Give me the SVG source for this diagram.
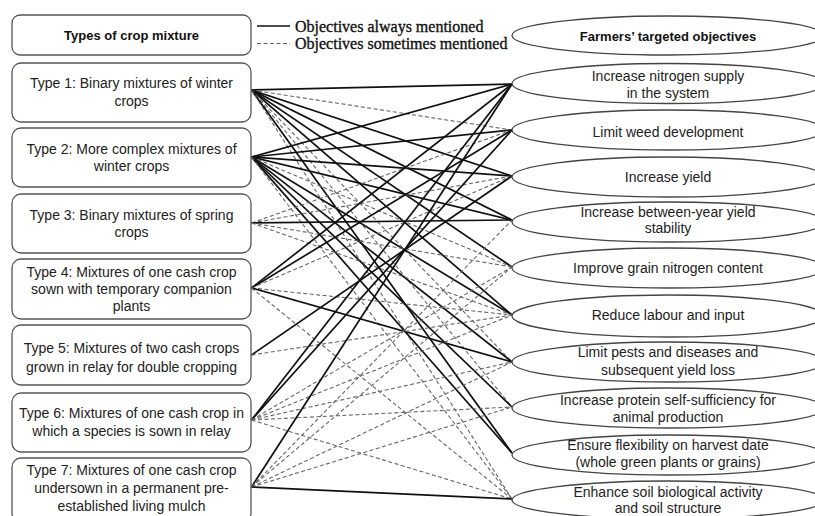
<svg xmlns="http://www.w3.org/2000/svg" width="815" height="516" viewBox="0 0 815 516">
<style>
.box{fill:#fff;stroke:#555;stroke-width:1.3}
.ell{fill:#fff;stroke:#444;stroke-width:1.3}
.t{font-family:"Liberation Sans",Arial,sans-serif;font-size:14px;fill:#222;text-anchor:middle}
.h{font-family:"Liberation Sans",Arial,sans-serif;font-size:13px;font-weight:bold;fill:#111;text-anchor:middle}
.lg{font-family:"Liberation Serif","Times New Roman",serif;font-size:16px;fill:#111;stroke:#111;stroke-width:0.35}
.s{stroke:#111;stroke-width:1.7;fill:none}
.d{stroke:#666;stroke-width:1.1;stroke-dasharray:4 2.5;fill:none}
</style>
<rect width="815" height="516" fill="#fff"/>
<g id="connectors">
<!-- T1 -->
<line class="s" x1="251.5" y1="90" x2="512" y2="84"/>
<line class="d" x1="251.5" y1="90" x2="512" y2="130"/>
<line class="s" x1="251.5" y1="90" x2="512" y2="176"/>
<line class="s" x1="251.5" y1="90" x2="512" y2="220"/>
<line class="s" x1="251.5" y1="90" x2="512" y2="267"/>
<line class="s" x1="251.5" y1="90" x2="512" y2="315"/>
<line class="d" x1="251.5" y1="90" x2="512" y2="362"/>
<line class="d" x1="251.5" y1="90" x2="512" y2="407"/>
<line class="s" x1="251.5" y1="90" x2="512" y2="453"/>
<line class="d" x1="251.5" y1="90" x2="512" y2="499"/>
<!-- T2 -->
<line class="s" x1="251.5" y1="157" x2="512" y2="84"/>
<line class="s" x1="251.5" y1="157" x2="512" y2="130"/>
<line class="s" x1="251.5" y1="157" x2="512" y2="176"/>
<line class="s" x1="251.5" y1="157" x2="512" y2="220"/>
<line class="d" x1="251.5" y1="157" x2="512" y2="267"/>
<line class="s" x1="251.5" y1="157" x2="512" y2="315"/>
<line class="s" x1="251.5" y1="157" x2="512" y2="362"/>
<line class="s" x1="251.5" y1="157" x2="512" y2="407"/>
<line class="s" x1="251.5" y1="157" x2="512" y2="453"/>
<line class="d" x1="251.5" y1="157" x2="512" y2="499"/>
<!-- T3 -->
<line class="d" x1="251.5" y1="223" x2="512" y2="130"/>
<line class="d" x1="251.5" y1="223" x2="512" y2="176"/>
<line class="s" x1="251.5" y1="223" x2="512" y2="220"/>
<line class="d" x1="251.5" y1="223" x2="512" y2="267"/>
<line class="d" x1="251.5" y1="223" x2="512" y2="315"/>
<!-- T4 -->
<line class="s" x1="251.5" y1="288" x2="512" y2="84"/>
<line class="s" x1="251.5" y1="288" x2="512" y2="130"/>
<line class="d" x1="251.5" y1="288" x2="512" y2="176"/>
<line class="d" x1="251.5" y1="288" x2="512" y2="315"/>
<line class="s" x1="251.5" y1="288" x2="512" y2="362"/>
<line class="d" x1="251.5" y1="288" x2="512" y2="499"/>
<!-- T5 -->
<line class="s" x1="251.5" y1="355" x2="512" y2="176"/>
<line class="d" x1="251.5" y1="355" x2="512" y2="315"/>
<!-- T6 -->
<line class="s" x1="251.5" y1="420" x2="512" y2="84"/>
<line class="s" x1="251.5" y1="420" x2="512" y2="130"/>
<line class="d" x1="251.5" y1="420" x2="512" y2="267"/>
<line class="d" x1="251.5" y1="420" x2="512" y2="315"/>
<line class="d" x1="251.5" y1="420" x2="512" y2="362"/>
<line class="d" x1="251.5" y1="420" x2="512" y2="407"/>
<line class="d" x1="251.5" y1="420" x2="512" y2="499"/>
<!-- T7 -->
<line class="s" x1="251.5" y1="487" x2="512" y2="84"/>
<line class="d" x1="251.5" y1="487" x2="512" y2="220"/>
<line class="d" x1="251.5" y1="487" x2="512" y2="267"/>
<line class="d" x1="251.5" y1="487" x2="512" y2="362"/>
<line class="d" x1="251.5" y1="487" x2="512" y2="407"/>
<line class="s" x1="251.5" y1="487" x2="512" y2="499"/>
</g>
<g id="legend">
<line class="s" x1="257" y1="26" x2="290" y2="26"/>
<text class="lg" x="295" y="31.5">Objectives always mentioned</text>
<line class="d" x1="257" y1="43.5" x2="290" y2="43.5"/>
<text class="lg" x="295" y="49">Objectives sometimes mentioned</text>
</g>
<g id="types-header"><rect class="box" x="12" y="15" width="239" height="40" rx="8"/><text class="h" x="131.5" y="40">Types of crop mixture</text></g>
<g id="type1"><rect class="box" x="12" y="63" width="239" height="59" rx="9"/><text class="t" x="131.5" y="87.5">Type 1: Binary mixtures of winter</text><text class="t" x="131.5" y="105.5">crops</text></g>
<g id="type2"><rect class="box" x="12" y="128" width="239" height="59" rx="9"/><text class="t" x="131.5" y="153.5">Type 2: More complex mixtures of</text><text class="t" x="131.5" y="171">winter crops</text></g>
<g id="type3"><rect class="box" x="12" y="194" width="239" height="59" rx="9"/><text class="t" x="131.5" y="220">Type 3: Binary mixtures of spring</text><text class="t" x="131.5" y="237">crops</text></g>
<g id="type4"><rect class="box" x="12" y="259" width="239" height="60" rx="9"/><text class="t" x="131.5" y="277">Type 4: Mixtures of one cash crop</text><text class="t" x="131.5" y="294">sown with temporary companion</text><text class="t" x="131.5" y="311">plants</text></g>
<g id="type5"><rect class="box" x="12" y="325" width="239" height="60" rx="9"/><text class="t" x="131.5" y="353">Type 5: Mixtures of two cash crops</text><text class="t" x="131.5" y="371.5">grown in relay for double cropping</text></g>
<g id="type6"><rect class="box" x="12" y="393" width="239" height="59" rx="9"/><text class="t" x="131.5" y="417.5">Type 6: Mixtures of one cash crop in</text><text class="t" x="131.5" y="435.5">which a species is sown in relay</text></g>
<g id="type7"><rect class="box" x="12" y="458" width="239" height="64" rx="9"/><text class="t" x="131.5" y="475">Type 7: Mixtures of one cash crop</text><text class="t" x="131.5" y="493">undersown  in a permanent pre-</text><text class="t" x="131.5" y="510.5">established living mulch</text></g>
<g id="obj-header"><ellipse class="ell" cx="668" cy="35.5" rx="156" ry="19.5"/><text class="h" x="668" y="40.5">Farmers’ targeted objectives</text></g>
<g id="obj1"><ellipse class="ell" cx="668" cy="83.5" rx="156" ry="20"/><text class="t" x="668" y="81">Increase nitrogen supply</text><text class="t" x="668" y="97.5">in the system</text></g>
<g id="obj2"><ellipse class="ell" cx="668" cy="130" rx="156" ry="20"/><text class="t" x="668" y="136.5">Limit weed development</text></g>
<g id="obj3"><ellipse class="ell" cx="668" cy="177" rx="156" ry="20"/><text class="t" x="668" y="182">Increase yield</text></g>
<g id="obj4"><ellipse class="ell" cx="668" cy="222" rx="156" ry="20"/><text class="t" x="668" y="216.5">Increase between-year yield</text><text class="t" x="668" y="233">stability</text></g>
<g id="obj5"><ellipse class="ell" cx="668" cy="268" rx="156" ry="20"/><text class="t" x="668" y="273">Improve grain nitrogen content</text></g>
<g id="obj6"><ellipse class="ell" cx="668" cy="316" rx="156" ry="21"/><text class="t" x="668" y="320">Reduce labour and input</text></g>
<g id="obj7"><ellipse class="ell" cx="668" cy="362" rx="156" ry="20"/><text class="t" x="668" y="357">Limit pests and diseases and</text><text class="t" x="668" y="375">subsequent  yield loss</text></g>
<g id="obj8"><ellipse class="ell" cx="668" cy="408" rx="156" ry="20"/><text class="t" x="668" y="405">Increase protein self-sufficiency for</text><text class="t" x="668" y="421.5">animal production</text></g>
<g id="obj9"><ellipse class="ell" cx="668" cy="455" rx="156" ry="20"/><text class="t" x="668" y="450">Ensure flexibility on harvest date</text><text class="t" x="668" y="466.5">(whole  green plants or grains)</text></g>
<g id="obj10"><ellipse class="ell" cx="668" cy="500" rx="156" ry="19"/><text class="t" x="668" y="496.5">Enhance soil biological activity</text><text class="t" x="668" y="512.5">and soil structure</text></g>
</svg>
